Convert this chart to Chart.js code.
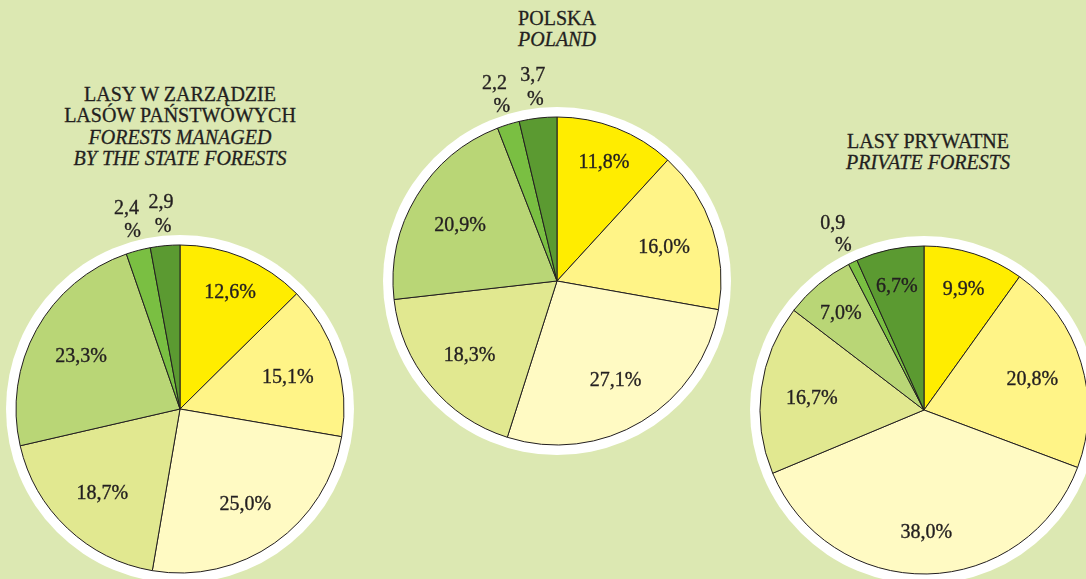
<!DOCTYPE html>
<html>
<head>
<meta charset="utf-8">
<script src="https://cdn.jsdelivr.net/npm/chart.js@4"></script>
<style>
  html, body { margin: 0; padding: 0; }
  body { width: 1086px; height: 579px; overflow: hidden; position: relative; background: #dce8b2; color: #231f20; }
  canvas { position: absolute; }
  .title { position: absolute; width: 400px; text-align: center; font-family: 'Liberation Serif', 'Times New Roman', serif; font-size: 20px; line-height: 21.3px; white-space: nowrap; -webkit-text-stroke: 0.3px #231f20; }
  .title i { font-style: italic; font-family: 'Liberation Serif', 'Times New Roman', serif; }
</style>
</head>
<body>
<div class="title" id="t1" style="left:-20px; top:84px;">LASY W ZARZĄDZIE<br>LASÓW PAŃSTWOWYCH<br><i>FORESTS MANAGED</i><br><i>BY THE STATE FORESTS</i></div>
<div class="title" id="t2" style="left:357px; top:8px;">POLSKA<br><i>POLAND</i></div>
<div class="title" id="t3" style="left:728px; top:131px;">LASY PRYWATNE<br><i>PRIVATE FORESTS</i></div>
<canvas id="c1" width="460" height="460" style="left:-50px; top:179px;"></canvas>
<canvas id="c2" width="460" height="460" style="left:327px; top:51px;"></canvas>
<canvas id="c3" width="460" height="460" style="left:694px; top:180px;"></canvas>
<script>
// Data
const categories = ['I', 'II', 'III', 'IV', 'V', 'VI', 'VII'];
const stateForests = [12.6, 15.1, 25.0, 18.7, 23.3, 2.4, 2.9];
const poland = [11.8, 16.0, 27.1, 18.3, 20.9, 2.2, 3.7];
const privateForests = [9.9, 20.8, 38.0, 16.7, 7.0, 0.9, 6.7];
const sliceColors = ['#ffed00', '#fff487', '#fffac3', '#e1e890', '#b9d676', '#7abf42', '#5b9a31'];

const textColor = '#231f20';
const fmt = v => v.toFixed(1).replace('.', ',');

Chart.defaults.font.family = "'Liberation Serif', 'Times New Roman', serif";

const piePlugin = {
  id: 'pieDecor',
  beforeDatasetsDraw(chart) {
    const arc = chart.getDatasetMeta(0).data[0];
    const ctx = chart.ctx;
    ctx.save();
    ctx.beginPath();
    ctx.arc(arc.x, arc.y, arc.outerRadius + 10, 0, Math.PI * 2);
    ctx.fillStyle = '#ffffff';
    ctx.fill();
    ctx.restore();
  },
  afterDatasetsDraw(chart) {
    const ctx = chart.ctx;
    const meta = chart.getDatasetMeta(0);
    const values = chart.data.datasets[0].data;
    ctx.save();
    ctx.fillStyle = textColor;
    ctx.strokeStyle = textColor;
    ctx.lineWidth = 0.35;
    ctx.font = "20px 'Liberation Serif', 'Times New Roman', serif";
    ctx.textAlign = 'center';
    ctx.textBaseline = 'middle';
    const put = (t, x, y) => { ctx.fillText(t, x, y + 3); ctx.strokeText(t, x, y + 3); };
    meta.data.forEach((arc, i) => {
      const v = values[i];
      const mid = (arc.startAngle + arc.endAngle) / 2;
      const r = arc.outerRadius;
      if (v < 5) {
        const r1 = r + 46, r2 = r + 22;
        put(fmt(v), arc.x + Math.cos(mid) * r1, arc.y + Math.sin(mid) * r1);
        put('%', arc.x + Math.cos(mid) * r2, arc.y + Math.sin(mid) * r2);
      } else {
        const f = v < 14 ? 0.79 : (v > 30 ? 0.73 : 0.69);
        put(fmt(v) + '%', arc.x + Math.cos(mid) * r * f, arc.y + Math.sin(mid) * r * f);
      }
    });
    ctx.restore();
  }
};

function makePie(id, values) {
  return new Chart(document.getElementById(id), {
    type: 'pie',
    data: {
      labels: categories,
      datasets: [{
        data: values,
        backgroundColor: sliceColors,
        borderColor: '#231f20',
        borderWidth: 1
      }]
    },
    options: {
      responsive: false,
      animation: false,
      radius: 164,
      layout: { padding: 0 },
      plugins: {
        legend: { display: false },
        tooltip: { enabled: false },
        title: { display: false }
      }
    },
    plugins: [piePlugin]
  });
}

makePie('c1', stateForests);
makePie('c2', poland);
makePie('c3', privateForests);
</script>
</body>
</html>
